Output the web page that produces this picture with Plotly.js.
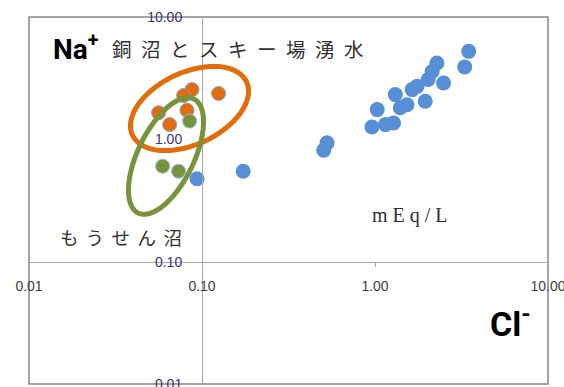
<!DOCTYPE html>
<html>
<head>
<meta charset="utf-8">
<script src="https://cdn.plot.ly/plotly-3.0.1.min.js"></script>
<style>html,body{margin:0;padding:0;background:#fff;}#chart{width:564px;height:387px;}</style>
</head>
<body>
<div id="chart"></div>
<script>
// ---- data (mEq/L) ----
// all springs (blue)
const blueCl = [3.48, 3.30, 2.28, 2.14, 2.49, 2.03, 1.75, 1.64, 1.95, 1.31, 1.53, 1.40, 1.03, 1.28, 0.96, 1.15, 0.528, 0.505, 0.173, 0.0936];
const blueNa = [5.24, 3.91, 4.21, 3.58, 2.89, 3.08, 2.71, 2.55, 2.05, 2.32, 1.92, 1.81, 1.75, 1.36, 1.26, 1.32, 0.936, 0.815, 0.549, 0.476];
// 銅沼 (orange)
const orangeCl = [0.0875, 0.0783, 0.1247, 0.0561, 0.0819, 0.065];
const orangeNa = [2.55, 2.28, 2.37, 1.65, 1.73, 1.32];
// もうせん沼 (green)
const greenCl = [0.0848, 0.0592, 0.0732];
const greenNa = [1.41, 0.603, 0.549];
// tick labels
const tickVals = [0.01, 0.1, 1, 10];
const tickText = ['0.01', '0.10', '1.00', '10.00'];

// ---- geometry ----
const W = 564, H = 387;
const M = {l: 29, r: 16, t: 17, b: 3};
const PW = W - M.l - M.r, PH = H - M.t - M.b;
const px2x = p => (p - M.l) / PW;
const px2y = p => (H - M.b - p) / PH;

function ellipsePath(cx, cy, a, b, deg) {
  const t = deg * Math.PI / 180, n = 72;
  let d = '';
  for (let i = 0; i <= n; i++) {
    const u = 2 * Math.PI * i / n;
    const ex = a * Math.cos(u), ey = b * Math.sin(u);
    const X = cx + ex * Math.cos(t) + ey * Math.sin(t);
    const Y = cy - ex * Math.sin(t) + ey * Math.cos(t);
    d += (i === 0 ? 'M' : 'L') + px2x(X).toFixed(5) + ',' + px2y(Y).toFixed(5);
  }
  return d + 'Z';
}

const traces = [
  {x: blueCl, y: blueNa, type: 'scatter', mode: 'markers', hoverinfo: 'skip',
   marker: {size: 15, color: '#568fd6'}},
  {x: orangeCl, y: orangeNa, type: 'scatter', mode: 'markers', hoverinfo: 'skip',
   marker: {size: 14, color: '#e46c0a', line: {color: '#7aa4dc', width: 1}}},
  {x: greenCl, y: greenNa, type: 'scatter', mode: 'markers', hoverinfo: 'skip',
   marker: {size: 14, color: '#77933c', line: {color: '#9ab8e0', width: 1}}}
];

const layout = {
  width: W, height: H, margin: M, showlegend: false,
  paper_bgcolor: '#ffffff', plot_bgcolor: '#ffffff',
  font: {family: 'Liberation Sans, Arial, sans-serif', color: '#404040'},
  xaxis: {type: 'log', range: [-2, 1], anchor: 'free', position: 1/3,
          showgrid: false, zeroline: false, showline: true, linecolor: '#a6a6a6', linewidth: 1,
          ticks: 'outside', ticklen: 4, tickcolor: '#a6a6a6', ticklabeloverflow: 'allow',
          tickvals: tickVals, ticktext: tickText, ticklabelstandoff: 8,
          tickfont: {size: 14, color: '#404040'}},
  yaxis: {type: 'log', range: [-2, 1], anchor: 'free', position: 1/3,
          showgrid: false, zeroline: false, showline: true, linecolor: '#a6a6a6', linewidth: 1,
          ticks: '', tickvals: tickVals, ticktext: tickText, ticklabelstandoff: 17,
          ticklabeloverflow: 'allow',
          tickfont: {size: 14, color: '#3d3270'}},
  shapes: [
    {type: 'rect', xref: 'paper', yref: 'paper', x0: 0, x1: 1, y0: 0, y1: 1,
     line: {color: '#868686', width: 1.5}, layer: 'below'},
    {type: 'path', xref: 'paper', yref: 'paper', path: ellipsePath(189.5, 108.5, 63, 36, 25),
     line: {color: '#e46c0a', width: 5}},
    {type: 'path', xref: 'paper', yref: 'paper', path: ellipsePath(166, 156, 63.5, 28, 64),
     line: {color: '#77933c', width: 5}}
  ],
  annotations: [
    {xref: 'paper', yref: 'paper', x: px2x(51), y: px2y(47), xanchor: 'left', yanchor: 'middle',
     showarrow: false, text: '<b>Na<sup>+</sup></b>',
     font: {family: 'Roboto, Liberation Sans, sans-serif', size: 28, color: '#000000'}},
    {xref: 'paper', yref: 'paper', x: px2x(110), y: px2y(48), xanchor: 'left', yanchor: 'middle',
     showarrow: false, text: '<span style="letter-spacing:9.5px">銅沼とスキー場湧水</span>',
     font: {family: 'Noto Sans CJK JP', size: 19.5, color: '#303030'}},
    {xref: 'paper', yref: 'paper', x: px2x(58), y: px2y(237), xanchor: 'left', yanchor: 'middle',
     showarrow: false, text: '<span style="letter-spacing:7.5px">もうせん沼</span>',
     font: {family: 'Noto Sans CJK JP', size: 18.5, color: '#303030'}},
    {xref: 'paper', yref: 'paper', x: px2x(370), y: px2y(215), xanchor: 'left', yanchor: 'middle',
     showarrow: false, text: '<span style="letter-spacing:5px">mEq/L</span>',
     font: {family: 'Liberation Serif, serif', size: 20, color: '#303030'}},
    {xref: 'paper', yref: 'paper', x: px2x(488), y: px2y(322), xanchor: 'left', yanchor: 'middle',
     showarrow: false, text: '<b>Cl<sup>-</sup></b>',
     font: {family: 'Roboto, Liberation Sans, sans-serif', size: 34, color: '#000000'}}
  ]
};

Plotly.newPlot('chart', traces, layout, {staticPlot: true, displayModeBar: false});
</script>
</body>
</html>
